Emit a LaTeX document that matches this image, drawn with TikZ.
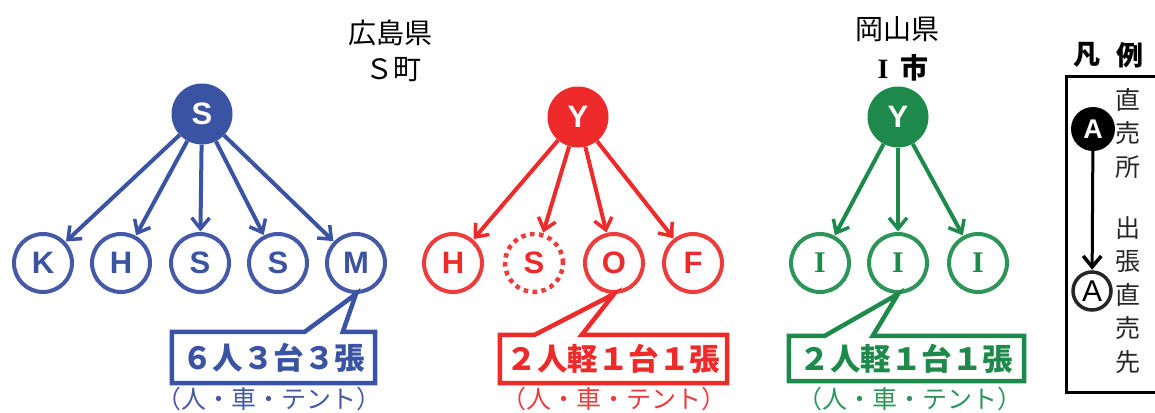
\documentclass[tikz,border=0pt]{standalone}
\usepackage{fontspec}
\setmainfont{Noto Sans CJK JP}
\newfontfamily\lat{Liberation Sans}
\newfontfamily\serl{Liberation Serif}
\usetikzlibrary{arrows.meta,calc}
\definecolor{bluef}{HTML}{3B53A3}
\definecolor{bluel}{HTML}{4559A6}
\definecolor{redf}{HTML}{EE2A2A}
\definecolor{redl}{HTML}{EE3B3B}
\definecolor{greenf}{HTML}{1D8A4C}
\definecolor{greenl}{HTML}{2E955A}
\tikzset{
  rootnode/.style={circle,minimum size=61pt,inner sep=0pt,font=\lat\bfseries\fontsize{31}{31}\selectfont,text=white},
  childnode/.style={circle,minimum size=58pt,inner sep=0pt,line width=4pt,fill=white,font=\lat\bfseries\fontsize{31}{31}\selectfont},
  arr/.style={line width=4pt,-{Straight Barb[length=11pt,width=18pt,line width=3.5pt]},shorten >=0.5pt},
  calltext/.style={inner sep=0pt,font=\bfseries\fontsize{30.5}{30.5}\selectfont},
  callbox/.style={line width=4.5pt,line join=miter},
  subt/.style={inner sep=0pt,font=\fontsize{25}{25}\selectfont},
  ttl/.style={inner sep=0pt,font=\fontsize{28}{28}\selectfont},
  vtxt/.style={inner sep=0pt,font=\fontsize{25}{33.5}\selectfont,align=center,text=black!85}
}
\begin{document}
\begin{tikzpicture}[x=1pt,y=-1pt]
\useasboundingbox (0,0) rectangle (1155,412);
% titles
\node[ttl] (t1a) at (390,33) {広島県};
\node[ttl] (t1b) at (393,70) {Ｓ町};
\node[ttl] (t2a) at (897,29) {岡山県};
\node[ttl] (t2b) at (903,68) {{\serl\bfseries I}\hspace{12pt}\bfseries 市};
% blue group
\node[rootnode,fill=bluef] (bs) at (202,114) {S};
\node[childnode,draw=bluel,text=bluef] (bk) at (43,263) {K};
\node[childnode,draw=bluel,text=bluef] (bh) at (121,263) {H};
\node[childnode,draw=bluel,text=bluef] (bs2) at (200,263) {S};
\node[childnode,draw=bluel,text=bluef] (bs3) at (278,263) {S};
\node[childnode,draw=bluel,text=bluef] (bm) at (356,263) {M};
\foreach \c in {bk,bh,bs2,bs3,bm} \draw[arr,bluef] (bs) -- (\c);
% red group
\node[rootnode,fill=redf] (ry) at (578,117) {Y};
\node[childnode,draw=redl,text=redf] (rh) at (453,263) {H};
\node[childnode,draw=redl,text=redf,line width=4.5pt,dash pattern=on 4.5pt off 4.5pt] (rs) at (534,263) {S};
\node[childnode,draw=redl,text=redf] (ro) at (614,263) {O};
\node[childnode,draw=redl,text=redf] (rf) at (693,263) {F};
\foreach \c in {rh,rs,ro,rf} \draw[arr,redf] (ry) -- (\c);
% green group
\node[rootnode,fill=greenf] (gy) at (898,117) {Y};
\node[childnode,draw=greenl,text=greenf,font=\serl\bfseries\fontsize{30}{30}\selectfont] (gi1) at (820,263) {I};
\node[childnode,draw=greenl,text=greenf,font=\serl\bfseries\fontsize{30}{30}\selectfont] (gi2) at (898,263) {I};
\node[childnode,draw=greenl,text=greenf,font=\serl\bfseries\fontsize{30}{30}\selectfont] (gi3) at (978,263) {I};
\foreach \c in {gi1,gi2,gi3} \draw[arr,greenf] (gy) -- (\c);
% callouts
\node[calltext,text=bluef,minimum width=203pt,minimum height=51pt] (bt) at (273.5,357.5) {６人３台３張};
\draw[callbox,bluef] (bt.north west) -- ($(bt.north west)+(133,0)$) -- (bm.south) -- ($(bt.north west)+(171,0)$) -- (bt.north east) -- (bt.south east) -- (bt.south west) -- cycle;
\node[subt,text=bluel] (bsub) at (269,399) {（人・車・テント）};
\node[calltext,text=redf,minimum width=227pt,minimum height=48pt] (rt) at (613.5,359) {２人軽１台１張};
\draw[callbox,redf] (rt.north west) -- ($(rt.north west)+(35,0)$) -- (ro.south) -- ($(rt.north west)+(82,0)$) -- (rt.north east) -- (rt.south east) -- (rt.south west) -- cycle;
\node[subt,text=redl] (rsub) at (614,399) {（人・車・テント）};
\node[calltext,text=greenf,minimum width=235pt,minimum height=45pt] (gt) at (906.5,358.5) {２人軽１台１張};
\draw[callbox,greenf] (gt.north west) -- ($(gt.north west)+(36,0)$) -- (gi2.south) -- ($(gt.north west)+(84,0)$) -- (gt.north east) -- (gt.south east) -- (gt.south west) -- cycle;
\node[subt,text=greenl] (gsub) at (910,399) {（人・車・テント）};
% legend
\node[inner sep=0pt,font=\bfseries\fontsize{27}{27}\selectfont] (lg1) at (1087,55) {凡};
\node[inner sep=0pt,font=\bfseries\fontsize{27}{27}\selectfont] (lg2) at (1130,55) {例};
\coordinate (lbtl) at (1066,76);
\coordinate (lbbr) at (1170,392);
\draw[line width=3pt] (lbtl) rectangle (lbbr);
\node[circle,fill=black,minimum size=44pt,inner sep=0pt,text=white,font=\lat\bfseries\fontsize{27}{27}\selectfont] (la) at (1093,129) {A};
\node[circle,draw=black!85,line width=3.5pt,fill=white,minimum size=38pt,inner sep=0pt,font=\lat\fontsize{30}{30}\selectfont] (lb) at (1092,291) {A};
\draw[arr,black,line width=3pt] (la) -- (lb);
\node[vtxt] (lt1) at (1128,133) {直\\売\\所};
\node[vtxt] (lt2) at (1128,295) {出\\張\\直\\売\\先};
\end{tikzpicture}
\end{document}
